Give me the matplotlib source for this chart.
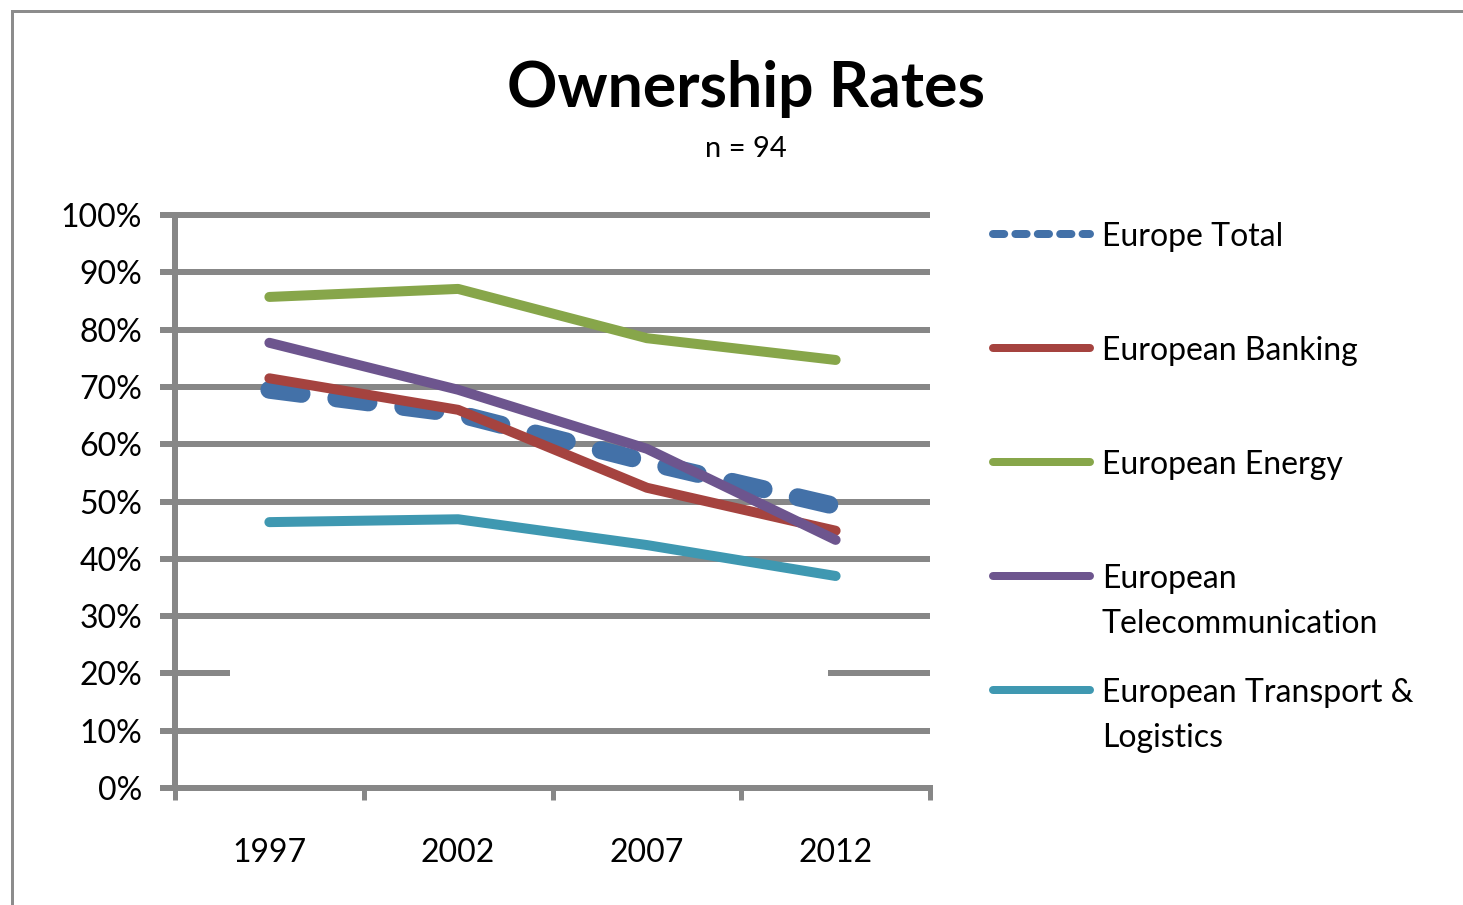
import matplotlib
matplotlib.use('Agg')
import matplotlib.pyplot as plt
from matplotlib.lines import Line2D
from matplotlib.patches import Rectangle

# Data (percent)
years = ['1997', '2002', '2007', '2012']
europe_total = [69.5, 65.3, 56.9, 49.2]
banking = [71.5, 66.0, 52.4, 44.9]
energy = [85.7, 87.1, 78.5, 74.7]
telecom = [77.7, 69.5, 59.2, 43.3]
transport = [46.4, 46.9, 42.4, 37.0]

series = [europe_total, banking, energy, telecom, transport]
names = ['Europe Total', 'European Banking', 'European Energy',
         'European\nTelecommunication', 'European Transport &\nLogistics']
colors = ['#4371A8', '#A5433F', '#87A64A', '#6D558E', '#3F98B1']
y_ticks = list(range(0, 101, 10))

plt.rcParams['font.family'] = ['Lato', 'DejaVu Sans']

W, H = 1463, 905
px = 72 / 100  # points per pixel at dpi 100
grey = '#878787'

fig = plt.figure(figsize=(W / 100, H / 100), dpi=100)
ax = fig.add_axes([175 / W, 1 - 788 / H, 755 / W, 573 / H])

# gridlines (the 20% line is broken in the original)
for v in y_ticks[1:]:
    if v == 20:
        ax.axhline(v, 0, 0.073, color=grey, lw=6 * px, zorder=1, clip_on=False, solid_capstyle='butt')
        ax.axhline(v, 0.865, 1, color=grey, lw=6 * px, zorder=1, clip_on=False, solid_capstyle='butt')
    else:
        ax.axhline(v, color=grey, lw=6 * px, zorder=1, clip_on=False, solid_capstyle='butt')

x = list(range(len(years)))
for i, (vals, color) in enumerate(zip(series, colors)):
    if i == 0:
        ax.plot(x, vals, color=color, lw=18 * px, dashes=(1.8, 1.95),
                dash_capstyle='round', dash_joinstyle='round', zorder=3 + i)
    else:
        ax.plot(x, vals, color=color, lw=10 * px,
                solid_capstyle='round', solid_joinstyle='round', zorder=3 + i)

ax.set_xlim(-0.5, 3.5)
ax.set_ylim(0, 100)
ax.set_yticks(y_ticks, [f'{v}%' for v in y_ticks])
ax.set_xticks(x, years)
ax.set_xticks([-0.5, 0.5, 1.5, 2.5, 3.5], minor=True)

ax.tick_params(axis='y', length=15 * px, width=6 * px, color=grey, pad=18 * px, labelsize=23)
ax.tick_params(axis='x', which='major', length=0, pad=50 * px, labelsize=23)
ax.tick_params(axis='x', which='minor', length=12 * px, width=5 * px, color=grey)

for s in ['top', 'right']:
    ax.spines[s].set_visible(False)
for s in ['left', 'bottom']:
    ax.spines[s].set_color(grey)
    ax.spines[s].set_linewidth(6 * px)

# legend drawn by hand, Excel style (equal slots per entry)
for i, (name, color) in enumerate(zip(names, colors)):
    yp = 234 + 114 * i
    yf = 1 - yp / H
    if i == 0:
        fig.add_artist(Line2D([993 / W, 1090 / W], [yf, yf], lw=8 * px, color=color,
                              dashes=(1.4, 1.4), dash_capstyle='round'))
    else:
        fig.add_artist(Line2D([993 / W, 1090 / W], [yf, yf], lw=8 * px, color=color,
                              solid_capstyle='round'))
    for k, line in enumerate(name.split('\n')):
        fig.text(1102 / W, 1 - (yp + 12 + 45 * k) / H, line, fontsize=23,
                 ha='left', va='baseline')

fig.text(746 / W, 1 - 89 / H, 'Ownership Rates', fontsize=45, fontweight='bold',
         ha='center', va='center')
fig.text(746 / W, 1 - 149 / H, 'n = 94', fontsize=21, ha='center', va='center')

# outer frame (only top and left edges visible)
fig.add_artist(Rectangle((12 / W, -0.1), 2, 1 - 11 / H + 0.1, fill=False,
                         ec='#8c8c8c', lw=3 * px))

fig.savefig('out.png', dpi=100)
